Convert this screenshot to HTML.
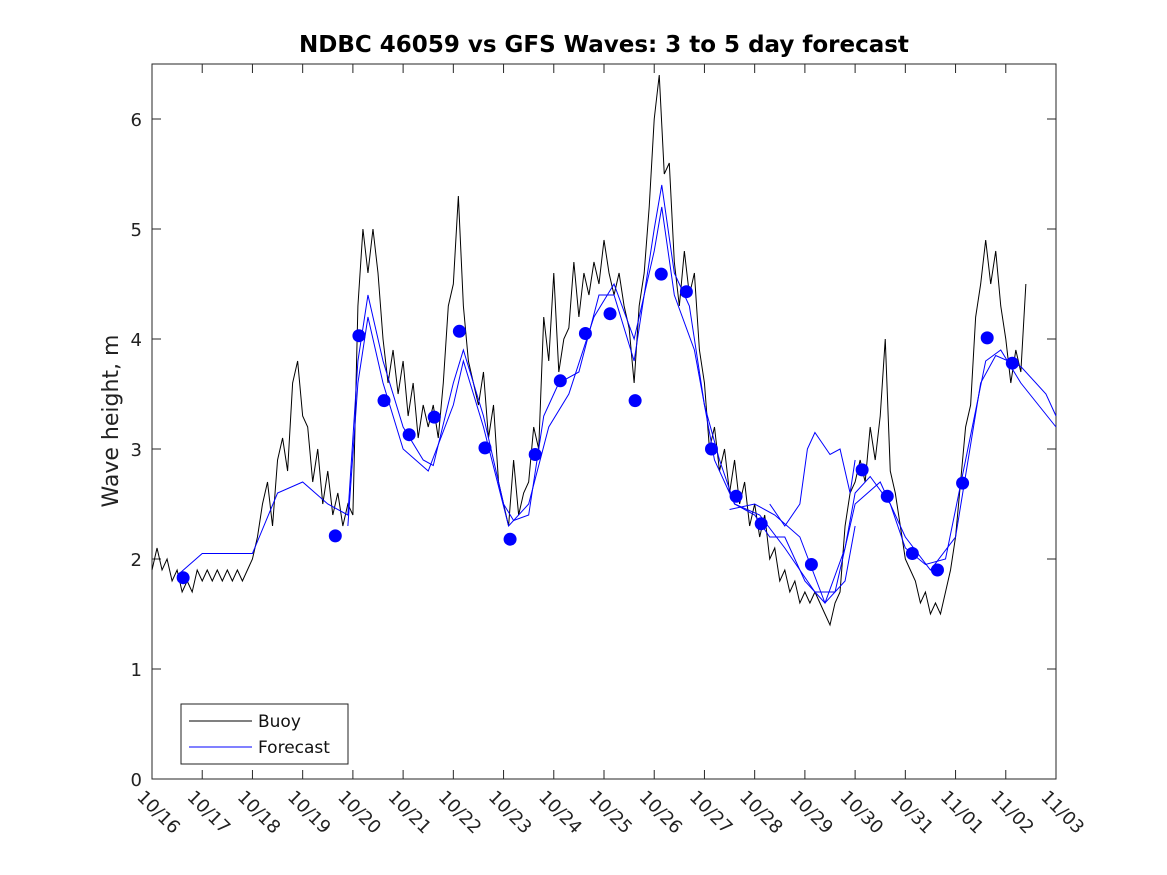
<!DOCTYPE html>
<html><head><meta charset="utf-8"><style>
body{margin:0;background:#fff}
svg{display:block;font-family:"DejaVu Sans","Liberation Sans",sans-serif}
</style></head><body>
<svg id="chart" width="1167" height="875">
<rect width="1167" height="875" fill="#fff"/>
<text x="604" y="52" text-anchor="middle" font-weight="bold" font-size="23" fill="#000">NDBC 46059 vs GFS Waves: 3 to 5 day forecast</text>
<text transform="translate(118,421) rotate(-90)" text-anchor="middle" font-size="22" fill="#222">Wave height, m</text>
<g id="plot"></g>
<g>
<rect x="181" y="704" width="167" height="60" fill="#fff" stroke="#222" stroke-width="1"/>
<line x1="189" y1="721" x2="252" y2="721" stroke="#000"/>
<text x="258" y="727" font-size="17" fill="#111">Buoy</text>
<line x1="189" y1="747" x2="252" y2="747" stroke="#00f"/>
<text x="258" y="753" font-size="17" fill="#111">Forecast</text>
</g>
</svg>
<script>
const xTickLabels=["10/16","10/17","10/18","10/19","10/20","10/21","10/22","10/23","10/24","10/25","10/26","10/27","10/28","10/29","10/30","10/31","11/01","11/02","11/03"];
const yTicks=[0,1,2,3,4,5,6];
const buoyStartDay=0, buoyStepDay=0.1;
const buoyV=[1.9,2.1,1.9,2.0,1.8,1.9,
1.7,1.8,1.7,1.9,1.8, 1.9,1.8,1.9,1.8,1.9, 1.8,1.9,1.8,1.9,2.0,
2.2,2.5,2.7,2.3,2.9, 3.1,2.8,3.6,3.8,3.3, 3.2,2.7,3.0,2.5,2.8,
2.4,2.6,2.3,2.5,2.4, 4.3,5.0,4.6,5.0,4.6, 4.0,3.6,3.9,3.5,3.8,
3.3,3.6,3.1,3.4,3.2, 3.4,3.1,3.6,4.3,4.5, 5.3,4.3,3.8,3.6,3.4,
3.7,3.1,3.4,2.7,2.5, 2.3,2.9,2.4,2.6,2.7, 3.2,3.0,4.2,3.8,4.6,
3.7,4.0,4.1,4.7,4.2, 4.6,4.4,4.7,4.5,4.9, 4.6,4.4,4.6,4.3,4.1,
3.6,4.3,4.6,5.2,6.0, 6.4,5.5,5.6,4.7,4.3, 4.8,4.4,4.6,3.9,3.6,
3.0,3.2,2.8,3.0,2.6, 2.9,2.5,2.7,2.3,2.5, 2.2,2.4,2.0,2.1,1.8,
1.9,1.7,1.8,1.6,1.7, 1.6,1.7,1.6,1.5,1.4, 1.6,1.7,2.3,2.6,2.7,
2.9,2.7,3.2,2.9,3.3, 4.0,2.8,2.6,2.3,2.0, 1.9,1.8,1.6,1.7,1.5,
1.6,1.5,1.7,1.9,2.2, 2.7,3.2,3.4,4.2,4.5, 4.9,4.5,4.8,4.3,4.0,
3.6,3.9,3.7,4.5];
const fcT1=[0.5,1,1.5,2,2.5,3,3.5,3.9,4.1,4.3,4.6,5.0,5.4,5.6,6.0,6.2,6.6,7.0,7.2,7.5,7.8,8.1,8.5,8.9,9.2,9.6,10.0,10.15,10.4,10.7,11.0,11.3,11.6,12.0,12.3,12.6,13.0,13.4,13.8,14.0,14.3,14.7,15.0,15.4,15.8,16.2,16.6,16.9,17.3,18];
const fcV1=[1.85,2.05,2.05,2.05,2.6,2.7,2.5,2.4,3.8,4.4,3.8,3.2,2.9,2.85,3.6,3.9,3.3,2.5,2.35,2.4,3.3,3.6,3.7,4.4,4.4,3.8,5.0,5.4,4.6,4.3,3.4,2.9,2.5,2.4,2.2,2.2,1.8,1.6,2.1,2.6,2.75,2.5,2.1,1.95,2.0,2.9,3.8,3.9,3.6,3.2];
const fcT2=[3.9,4.1,4.3,4.6,5.0,5.5,6.0,6.2,6.6,7.1,7.5,7.9,8.3,8.8,9.2,9.6,10.0,10.15,10.4,10.8,11.2,11.6,12.1,12.6,13.2,13.6,14.0,14.5,15.0,15.5,16.0,16.5,16.8,17.3,17.8,18];
const fcV2=[2.3,3.6,4.2,3.6,3.0,2.8,3.4,3.8,3.2,2.3,2.5,3.2,3.5,4.2,4.5,4.0,4.8,5.2,4.4,3.9,2.9,2.5,2.4,2.1,1.7,1.7,2.5,2.7,2.2,1.9,2.2,3.6,3.85,3.75,3.5,3.3];
const fcT3=[12.3,12.6,12.9,13.05,13.2,13.5,13.7,13.9,14.0];
const fcV3=[2.5,2.3,2.5,3.0,3.15,2.95,3.0,2.6,2.9];
const fcT4=[11.5,12.0,12.4,12.9,13.4,13.8,14.0];
const fcV4=[2.45,2.5,2.4,2.2,1.6,1.8,2.3];
const dotT=[0.62,3.65,4.12,4.62,5.12,5.62,6.12,6.63,7.13,7.63,8.13,8.63,9.12,9.62,10.14,10.64,11.14,11.63,12.13,13.13,14.14,14.64,15.14,15.64,16.14,16.63,17.13];
const dotV=[1.83,2.21,4.03,3.44,3.13,3.29,4.07,3.01,2.18,2.95,3.62,4.05,4.23,3.44,4.59,4.43,3.00,2.57,2.32,1.95,2.81,2.57,2.05,1.90,2.69,4.01,3.78];

const L=152,R=1056,T=64,B=779;
const xs=d=>L+d*(R-L)/18;
const ys=v=>B-v*110;
const NS="http://www.w3.org/2000/svg";
const g=document.getElementById('plot');
function mk(tag,attrs){const e=document.createElementNS(NS,tag);for(const k in attrs)e.setAttribute(k,attrs[k]);g.appendChild(e);return e;}
const frame=mk('rect',{x:L,y:T,width:R-L,height:B-T,fill:'none',stroke:'#262626','stroke-width':1});


xTickLabels.forEach((lab,i)=>{
  const x=xs(i);
  const t1=mk('line',{x1:x,y1:B,x2:x,y2:B-9,stroke:'#262626'});
  
  
  const t2=mk('line',{x1:x,y1:T,x2:x,y2:T+9,stroke:'#262626'});
  
  
  const tx=mk('text',{transform:`translate(${x-16},${B+19}) rotate(45)`,'font-size':18,fill:'#222'});
  tx.textContent=lab;
  
  
});
yTicks.forEach(v=>{
  const y=ys(v);
  const a=mk('line',{x1:L,y1:y,x2:L+9,y2:y,stroke:'#262626'});
  
  
  const b=mk('line',{x1:R,y1:y,x2:R-9,y2:y,stroke:'#262626'});
  
  
  const tx=mk('text',{x:L-10,y:y+7,'text-anchor':'end','font-size':18,fill:'#222'});
  tx.textContent=v;
  
  
});
function poly(T_,V_,color,name){
  const p=mk('polyline',{points:T_.map((t,i)=>xs(t)+','+ys(V_[i])).join(' '),fill:'none',stroke:color,'stroke-width':1});
  
  
}
const buoyT=buoyV.map((v,i)=>buoyStartDay+i*buoyStepDay);
poly(buoyT,buoyV,'#000','buoy-line');
poly(fcT1,fcV1,'#00f','forecast-line-1');
poly(fcT2,fcV2,'#00f','forecast-line-2');
poly(fcT3,fcV3,'#00f','forecast-line-3');
poly(fcT4,fcV4,'#00f','forecast-line-4');
dotT.forEach((t,i)=>{
  const c=mk('circle',{cx:xs(t),cy:ys(dotV[i]),r:6.5,fill:'#00f'});
  
  
});
</script>
</body></html>
